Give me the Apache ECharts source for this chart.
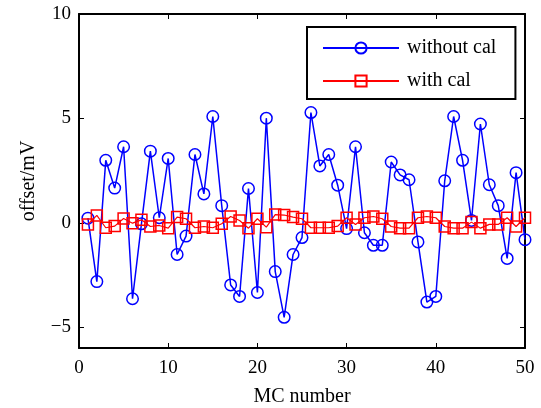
<!DOCTYPE html>
<html>
<head>
<meta charset="utf-8">
<script src="https://cdn.jsdelivr.net/npm/echarts@6/dist/echarts.min.js"></script>
<style>html,body{margin:0;padding:0;background:#fff}#c{width:541px;height:408px}</style>
</head>
<body>
<div id="c"></div>
<script>
var mcNumbers = [1,2,3,4,5,6,7,8,9,10,11,12,13,14,15,16,17,18,19,20,21,22,23,24,25,26,27,28,29,30,31,32,33,34,35,36,37,38,39,40,41,42,43,44,45,46,47,48,49,50];
var withoutCal = [0.22,-2.82,2.99,1.66,3.64,-3.64,-0.05,3.43,0.24,3.08,-1.52,-0.64,3.27,1.38,5.09,0.82,-2.98,-3.53,1.64,-3.34,5.01,-2.34,-4.53,-1.52,-0.71,5.28,2.72,3.27,1.8,-0.28,3.64,-0.48,-1.08,-1.08,2.91,2.29,2.06,-0.92,-3.8,-3.53,2.01,5.09,2.99,0.11,4.73,1.82,0.82,-1.71,2.4,-0.81];
var withCal = [-0.08,0.35,-0.24,-0.16,0.2,-0.02,0.14,-0.18,-0.13,-0.26,0.27,0.19,-0.24,-0.18,-0.24,-0.05,0.3,0.11,-0.26,0.19,-0.21,0.39,0.37,0.27,0.19,-0.24,-0.24,-0.24,-0.16,0.24,-0.08,0.24,0.3,0.19,-0.18,-0.26,-0.26,0.24,0.3,0.24,-0.18,-0.26,-0.26,0.03,-0.26,-0.08,-0.08,0.24,-0.18,0.24];
var yTicks = [-5, 0, 5, 10];
var seriesNames = ['without cal', 'with cal'];

var font = 'Liberation Serif, Times New Roman, serif';
var chart = echarts.init(document.getElementById('c'), null, {renderer: 'canvas'});
function pairs(vals) { return vals.map(function (v, i) { return [mcNumbers[i], v]; }); }
function minus(v) { return String(v).replace('-', '\u2212'); }
var axisLine = {show: true, onZero: false, lineStyle: {color: '#000', width: 2}};
var tick = {inside: true, length: 5, lineStyle: {color: '#000', width: 1}};
chart.setOption({
  animation: false,
  backgroundColor: '#fff',
  grid: {left: 79, right: 16, top: 14, bottom: 60, outerBoundsMode: 'none', containLabel: false},
  legend: {
    orient: 'vertical', left: 307, top: 27,
    backgroundColor: '#fff', borderColor: '#000', borderWidth: 2,
    padding: [11, 19, 8, 15], itemGap: 13, itemWidth: 76, itemHeight: 14,
    textStyle: {fontFamily: font, fontSize: 20, color: '#000', padding: [0, 0, 0, 3]},
    data: seriesNames
  },
  xAxis: [{
    type: 'value', min: 0, max: 50, interval: 10,
    name: 'MC number', nameLocation: 'middle', nameGap: 39,
    nameTextStyle: {fontFamily: font, fontSize: 20, color: '#000'},
    axisLine: axisLine, axisTick: tick,
    axisLabel: {fontFamily: font, fontSize: 19, color: '#000', margin: 11},
    splitLine: {show: false}
  }, {
    type: 'value', position: 'top', min: 0, max: 50, interval: 10,
    axisLine: axisLine, axisTick: tick,
    axisLabel: {show: false}, splitLine: {show: false}
  }],
  yAxis: [{
    type: 'value', min: -6, max: 10,
    name: 'offset/mV', nameLocation: 'middle', nameGap: 40, nameRotate: 90,
    nameTextStyle: {fontFamily: font, fontSize: 20, color: '#000'},
    axisLine: axisLine,
    axisTick: {inside: true, length: 5, customValues: yTicks, lineStyle: {color: '#000', width: 1}},
    axisLabel: {fontFamily: font, fontSize: 19, color: '#000', margin: 8, customValues: yTicks, formatter: minus},
    splitLine: {show: false}
  }, {
    type: 'value', position: 'right', min: -6, max: 10,
    axisLine: axisLine,
    axisTick: {inside: true, length: 5, customValues: yTicks, lineStyle: {color: '#000', width: 1}},
    axisLabel: {show: false}, splitLine: {show: false}
  }],
  series: [{
    name: seriesNames[0], type: 'line', data: pairs(withoutCal),
    symbol: 'circle', symbolSize: 11.5,
    lineStyle: {color: '#0000ff', width: 1.5},
    itemStyle: {color: 'rgba(0,0,0,0)', borderColor: '#0000ff', borderWidth: 1.5},
    z: 2
  }, {
    name: seriesNames[1], type: 'line', data: pairs(withCal),
    symbol: 'rect', symbolSize: 11,
    lineStyle: {color: '#ff0000', width: 1.2},
    itemStyle: {color: 'rgba(0,0,0,0)', borderColor: '#ff0000', borderWidth: 1.5},
    z: 3
  }]
});
</script>
</body>
</html>
